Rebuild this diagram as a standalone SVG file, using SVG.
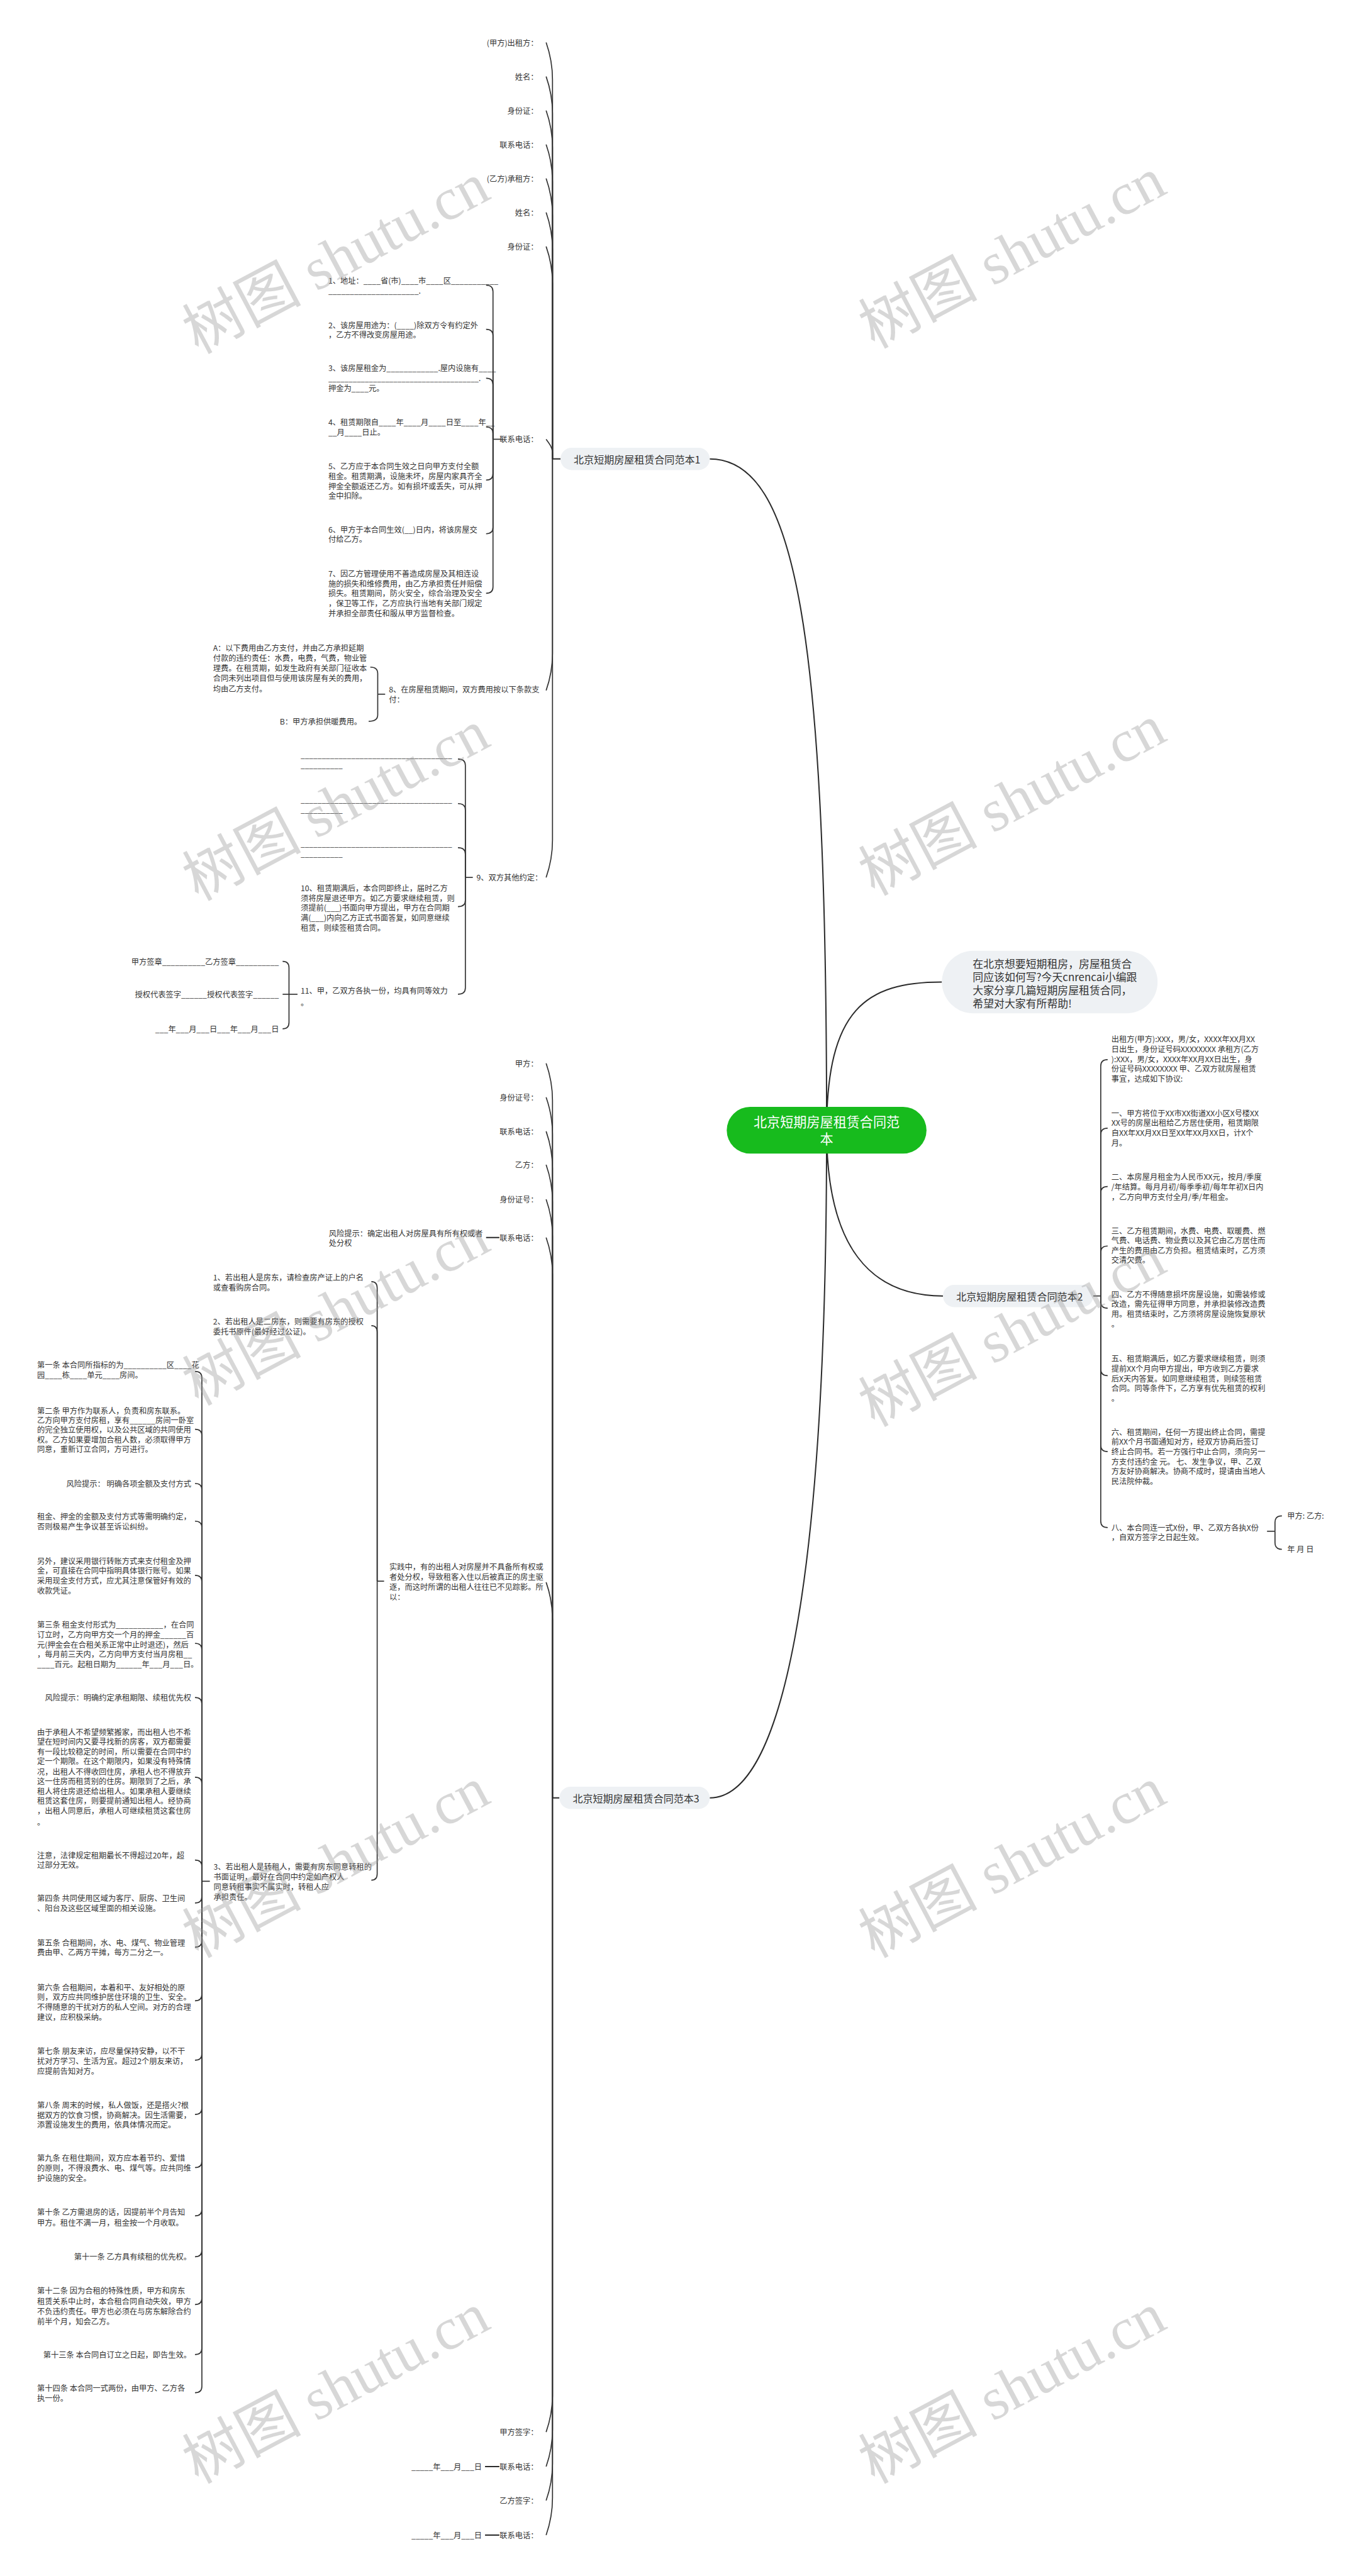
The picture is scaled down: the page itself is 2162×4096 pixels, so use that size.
<svg xmlns="http://www.w3.org/2000/svg" width="2162" height="4096" viewBox="0 0 2162 4096">
<style>
.t{font-family:'Noto Sans CJK SC','Microsoft YaHei',sans-serif;font-size:14.5px;fill:#333;dominant-baseline:central}
.r{text-anchor:end}
.lk{fill:none;stroke:#333;stroke-width:2}
.tk{fill:none;stroke:#2b2b2b;stroke-width:2.4}
.pill{fill:#eef1f4}
.pt{font-family:'Noto Sans CJK SC','Microsoft YaHei',sans-serif;font-size:19px;fill:#333;dominant-baseline:central}
.wm{font-family:'Liberation Serif','Noto Sans CJK SC',serif;font-size:112px;fill:#999;opacity:0.38;text-anchor:middle}
</style>
<rect width="2162" height="4096" fill="#fff"/>
<g transform="scale(0.84453)">
<g id="connectors">
<path class="tk" d="M1556 2128 C1556 1200,1500 864,1336 864"/>
<path class="tk" d="M1556 2128 C1556 1900,1630 1849,1773 1849"/>
<path class="tk" d="M1556 2128 C1556 2350,1640 2440,1775 2440"/>
<path class="tk" d="M1556 2128 C1556 3000,1470 3385,1336 3385"/>
<path class="tk" d="M1040 864 L1055 864"/>
<path class="lk" d="M1028 80 C1035 100,1040 120,1040 150 L1040 864"/>
<path class="lk" d="M1028 144 C1035 164,1040 184,1040 214 L1040 864"/>
<path class="lk" d="M1028 208 C1035 228,1040 248,1040 278 L1040 864"/>
<path class="lk" d="M1028 272 C1035 292,1040 312,1040 342 L1040 864"/>
<path class="lk" d="M1028 336 C1035 356,1040 376,1040 406 L1040 864"/>
<path class="lk" d="M1028 400 C1035 420,1040 440,1040 470 L1040 864"/>
<path class="lk" d="M1028 464 C1035 484,1040 504,1040 534 L1040 864"/>
<path class="lk" d="M1028 827 C1034 835,1040 843,1040 852 L1040 864"/>
<path class="lk" d="M1028 1300 C1035 1280,1040 1260,1040 1230 L1040 864"/>
<path class="lk" d="M1028 1652 C1035 1632,1040 1612,1040 1582 L1040 864"/>
<path class="lk" d="M948 827 L928 827"/>
<path class="lk" d="M915 537 Q928 537,928 549 L928 827"/>
<path class="lk" d="M915 620 Q928 620,928 632 L928 827"/>
<path class="lk" d="M915 712 Q928 712,928 724 L928 827"/>
<path class="lk" d="M915 804 Q928 804,928 816 L928 827"/>
<path class="lk" d="M915 904 Q928 904,928 892 L928 827"/>
<path class="lk" d="M915 1005 Q928 1005,928 993 L928 827"/>
<path class="lk" d="M915 1117 Q928 1117,928 1105 L928 827"/>
<path class="lk" d="M725 1307 L711 1307"/>
<path class="lk" d="M697 1256 Q711 1256,711 1268 L711 1307"/>
<path class="lk" d="M694 1358 Q711 1358,711 1346 L711 1307"/>
<path class="lk" d="M890 1652 L876 1652"/>
<path class="lk" d="M862 1429 Q876 1429,876 1441 L876 1652"/>
<path class="lk" d="M862 1513 Q876 1513,876 1525 L876 1652"/>
<path class="lk" d="M862 1596 Q876 1596,876 1608 L876 1652"/>
<path class="lk" d="M862 1707 Q876 1707,876 1695 L876 1652"/>
<path class="lk" d="M862 1872 Q876 1872,876 1860 L876 1652"/>
<path class="lk" d="M560 1872 L532 1872"/>
<path class="lk" d="M532 1810 Q544 1810,544 1822 L544 1872"/>
<path class="lk" d="M532 1937 Q544 1937,544 1925 L544 1872"/>
<path class="lk" d="M2058 2440 L2072 2440"/>
<path class="lk" d="M2085 1995 Q2072 1995,2072 2007 L2072 2440"/>
<path class="lk" d="M2085 2124 Q2072 2124,2072 2136 L2072 2440"/>
<path class="lk" d="M2085 2234 Q2072 2234,2072 2246 L2072 2440"/>
<path class="lk" d="M2085 2346 Q2072 2346,2072 2358 L2072 2440"/>
<path class="lk" d="M2085 2463 Q2072 2463,2072 2451 L2072 2440"/>
<path class="lk" d="M2085 2590 Q2072 2590,2072 2578 L2072 2440"/>
<path class="lk" d="M2085 2733 Q2072 2733,2072 2721 L2072 2440"/>
<path class="lk" d="M2085 2876 Q2072 2876,2072 2864 L2072 2440"/>
<path class="lk" d="M2385 2883 L2400 2883"/>
<path class="lk" d="M2413 2854 Q2400 2854,2400 2866 L2400 2883"/>
<path class="lk" d="M2413 2917 Q2400 2917,2400 2905 L2400 2883"/>
<path class="tk" d="M1040 3385 L1053 3385"/>
<path class="lk" d="M1028 2002 C1035 2022,1040 2042,1040 2072 L1040 3385"/>
<path class="lk" d="M1028 2066 C1035 2086,1040 2106,1040 2136 L1040 3385"/>
<path class="lk" d="M1028 2130 C1035 2150,1040 2170,1040 2200 L1040 3385"/>
<path class="lk" d="M1028 2193 C1035 2213,1040 2233,1040 2263 L1040 3385"/>
<path class="lk" d="M1028 2258 C1035 2278,1040 2298,1040 2328 L1040 3385"/>
<path class="lk" d="M1028 2330 C1035 2350,1040 2370,1040 2400 L1040 3385"/>
<path class="lk" d="M1028 2979 C1035 2999,1040 3019,1040 3049 L1040 3385"/>
<path class="lk" d="M1028 4579 C1035 4559,1040 4539,1040 4509 L1040 3385"/>
<path class="lk" d="M1028 4644 C1035 4624,1040 4604,1040 4574 L1040 3385"/>
<path class="lk" d="M1028 4708 C1035 4688,1040 4668,1040 4638 L1040 3385"/>
<path class="lk" d="M1028 4773 C1035 4753,1040 4733,1040 4703 L1040 3385"/>
<path class="tk" d="M940 2330 L915 2330"/>
<path class="tk" d="M940 4644 L913 4644"/>
<path class="tk" d="M940 4773 L913 4773"/>
<path class="lk" d="M723 2977 L710 2977"/>
<path class="lk" d="M699 2413 Q710 2413,710 2425 L710 2977"/>
<path class="lk" d="M699 2496 Q710 2496,710 2508 L710 2977"/>
<path class="lk" d="M699 3540 Q710 3540,710 3528 L710 2977"/>
<path class="lk" d="M395 3542 L380 3542"/>
<path class="lk" d="M367 2582 Q380 2582,380 2594 L380 3542"/>
<path class="lk" d="M367 2691 Q380 2691,380 2703 L380 3542"/>
<path class="lk" d="M367 2793 Q380 2793,380 2805 L380 3542"/>
<path class="lk" d="M367 2864 Q380 2864,380 2876 L380 3542"/>
<path class="lk" d="M367 2966 Q380 2966,380 2978 L380 3542"/>
<path class="lk" d="M367 3094 Q380 3094,380 3106 L380 3542"/>
<path class="lk" d="M367 3196 Q380 3196,380 3208 L380 3542"/>
<path class="lk" d="M367 3346 Q380 3346,380 3358 L380 3542"/>
<path class="lk" d="M367 3502 Q380 3502,380 3514 L380 3542"/>
<path class="lk" d="M367 3583 Q380 3583,380 3571 L380 3542"/>
<path class="lk" d="M367 3666 Q380 3666,380 3654 L380 3542"/>
<path class="lk" d="M367 3767 Q380 3767,380 3755 L380 3542"/>
<path class="lk" d="M367 3879 Q380 3879,380 3867 L380 3542"/>
<path class="lk" d="M367 3981 Q380 3981,380 3969 L380 3542"/>
<path class="lk" d="M367 4081 Q380 4081,380 4069 L380 3542"/>
<path class="lk" d="M367 4172 Q380 4172,380 4160 L380 3542"/>
<path class="lk" d="M367 4249 Q380 4249,380 4237 L380 3542"/>
<path class="lk" d="M367 4339 Q380 4339,380 4327 L380 3542"/>
<path class="lk" d="M367 4433 Q380 4433,380 4421 L380 3542"/>
<path class="lk" d="M367 4505 Q380 4505,380 4493 L380 3542"/>
</g>

<g id="center">
<rect x="1368" y="2084" width="376" height="88" rx="44" fill="#17bb1d"/>
<text font-family="'Noto Sans CJK SC','Microsoft YaHei',sans-serif" font-size="25" fill="#fff" text-anchor="middle" dominant-baseline="central"><tspan x="1556" y="2111">北京短期房屋租赁合同范</tspan><tspan x="1556" y="2143">本</tspan></text>
</g>

<g id="intro">
<rect class="pill" x="1773" y="1790" width="406" height="118" rx="59"/>
<text font-family="'Noto Sans CJK SC','Microsoft YaHei',sans-serif" font-size="20" fill="#333" dominant-baseline="central"><tspan x="1831" y="1813">在北京想要短期租房，房屋租赁合</tspan><tspan x="1831" y="1838">同应该如何写?今天cnrencai小编跟</tspan><tspan x="1831" y="1863">大家分享几篇短期房屋租赁合同，</tspan><tspan x="1831" y="1888">希望对大家有所帮助!</tspan></text>
</g>

<g id="branch1">
<rect class="pill" x="1055" y="843" width="281" height="42" rx="21"/>
<text class="pt" x="1080" y="864">北京短期房屋租赁合同范本1</text>
</g>
<g id="b1-leaves">
<text class="t r" x="1013" y="80">(甲方)出租方：</text>
<text class="t r" x="1013" y="144">姓名：</text>
<text class="t r" x="1013" y="208">身份证：</text>
<text class="t r" x="1013" y="272">联系电话：</text>
<text class="t r" x="1013" y="336">(乙方)承租方：</text>
<text class="t r" x="1013" y="400">姓名：</text>
<text class="t r" x="1013" y="464">身份证：</text>
<text class="t r" x="1013" y="827">联系电话：</text>
</g>
<g id="b1-tel-children">
<text class="t"><tspan x="618" y="528">1、地址：____省(市)____市____区___________</tspan><tspan x="618" y="547">_____________________.</tspan></text>
<text class="t"><tspan x="618" y="612">2、该房屋用途为：(____)除双方令有约定外</tspan><tspan x="618" y="630">，乙方不得改变房屋用途。</tspan></text>
<text class="t"><tspan x="618" y="693">3、该房屋租金为____________.屋内设施有____</tspan><tspan x="618" y="712" textLength="287" lengthAdjust="spacingAndGlyphs">_____________________________________.</tspan><tspan x="618" y="731">押金为____元。</tspan></text>
<text class="t"><tspan x="618" y="795">4、租赁期限自____年____月____日至____年__</tspan><tspan x="618" y="813">__月____日止。</tspan></text>
<text class="t"><tspan x="618" y="878">5、乙方应于本合同生效之日向甲方支付全额</tspan><tspan x="618" y="896">租金。租赁期满，设施未坏，房屋内家具齐全</tspan><tspan x="618" y="915">押金全额返还乙方。如有损坏或丢失，可从押</tspan><tspan x="618" y="933">金中扣除。</tspan></text>
<text class="t"><tspan x="618" y="997">6、甲方于本合同生效(__)日内，将该房屋交</tspan><tspan x="618" y="1015">付给乙方。</tspan></text>
<text class="t"><tspan x="618" y="1080">7、因乙方管理使用不善造成房屋及其相连设</tspan><tspan x="618" y="1099">施的损失和维修费用，由乙方承担责任并赔偿</tspan><tspan x="618" y="1117">损失。租赁期间，防火安全，综合治理及安全</tspan><tspan x="618" y="1136">，保卫等工作，乙方应执行当地有关部门规定</tspan><tspan x="618" y="1154">并承担全部责任和服从甲方监督检查。</tspan></text>
</g>
<g id="b1-item8">
<text class="t"><tspan x="732" y="1298">8、在房屋租赁期间，双方费用按以下条款支</tspan><tspan x="732" y="1317">付：</tspan></text>
<text class="t"><tspan x="401" y="1220">A：以下费用由乙方支付，并由乙方承担延期</tspan><tspan x="401" y="1239">付款的违约责任：水费，电费，气费，物业管</tspan><tspan x="401" y="1258">理费。在租赁期，如发生政府有关部门征收本</tspan><tspan x="401" y="1277">合同未列出项目但与使用该房屋有关的费用，</tspan><tspan x="401" y="1296">均由乙方支付。</tspan></text>
<text class="t r" x="681" y="1358">B：甲方承担供暖费用。</text>
</g>
<g id="b1-item9">
<text class="t" x="897" y="1652">9、双方其他约定：</text>
<text class="t"><tspan x="566" y="1421" textLength="285" lengthAdjust="spacingAndGlyphs">____________________________________</tspan><tspan x="566" y="1440" textLength="79" lengthAdjust="spacingAndGlyphs">__________</tspan></text>
<text class="t"><tspan x="566" y="1505" textLength="285" lengthAdjust="spacingAndGlyphs">____________________________________</tspan><tspan x="566" y="1524" textLength="79" lengthAdjust="spacingAndGlyphs">__________</tspan></text>
<text class="t"><tspan x="566" y="1588" textLength="285" lengthAdjust="spacingAndGlyphs">____________________________________</tspan><tspan x="566" y="1607" textLength="79" lengthAdjust="spacingAndGlyphs">__________</tspan></text>
<text class="t"><tspan x="566" y="1672">10、租赁期满后，本合同即终止，届时乙方</tspan><tspan x="566" y="1691">须将房屋退还甲方。如乙方要求继续租赁，则</tspan><tspan x="566" y="1709">须提前(___)书面向甲方提出，甲方在合同期</tspan><tspan x="566" y="1728">满(___)内向乙方正式书面答复，如同意继续</tspan><tspan x="566" y="1747">租赁，则续签租赁合同。</tspan></text>
<text class="t"><tspan x="566" y="1865">11、甲，乙双方各执一份，均具有同等效力</tspan><tspan x="566" y="1887">。</tspan></text>
<text class="t r" x="525" y="1810">甲方签章__________乙方签章__________</text>
<text class="t r" x="525" y="1872">授权代表签字______授权代表签字______</text>
<text class="t r" x="525" y="1937">___年___月___日___年___月___日</text>
</g>

<g id="branch2">
<rect class="pill" x="1775" y="2419" width="283" height="42" rx="21"/>
<text class="pt" x="1800" y="2440">北京短期房屋租赁合同范本2</text>
</g>
<g id="b2-children">
<text class="t"><tspan x="2092" y="1956">出租方(甲方):XXX，男/女，XXXX年XX月XX</tspan><tspan x="2092" y="1975">日出生，身份证号码XXXXXXXX 承租方(乙方</tspan><tspan x="2092" y="1994">):XXX，男/女，XXXX年XX月XX日出生，身</tspan><tspan x="2092" y="2012">份证号码XXXXXXXX 甲、乙双方就房屋租赁</tspan><tspan x="2092" y="2031">事宜，达成如下协议:</tspan></text>
<text class="t"><tspan x="2092" y="2096">一、甲方将位于XX市XX街道XX小区X号楼XX</tspan><tspan x="2092" y="2114">XX号的房屋出租给乙方居住使用，租赁期限</tspan><tspan x="2092" y="2133">自XX年XX月XX日至XX年XX月XX日，计X个</tspan><tspan x="2092" y="2151">月。</tspan></text>
<text class="t"><tspan x="2092" y="2216">二、本房屋月租金为人民币XX元，按月/季度</tspan><tspan x="2092" y="2234">/年结算。每月月初/每季季初/每年年初X日内</tspan><tspan x="2092" y="2253">，乙方向甲方支付全月/季/年租金。</tspan></text>
<text class="t"><tspan x="2092" y="2317">三、乙方租赁期间，水费、电费、取暖费、燃</tspan><tspan x="2092" y="2335">气费、电话费、物业费以及其它由乙方居住而</tspan><tspan x="2092" y="2354">产生的费用由乙方负担。租赁结束时，乙方须</tspan><tspan x="2092" y="2372">交清欠费。</tspan></text>
<text class="t"><tspan x="2092" y="2437">四、乙方不得随意损坏房屋设施，如需装修或</tspan><tspan x="2092" y="2455">改造，需先征得甲方同意，并承担装修改造费</tspan><tspan x="2092" y="2474">用。租赁结束时，乙方须将房屋设施恢复原状</tspan><tspan x="2092" y="2493">。</tspan></text>
<text class="t"><tspan x="2092" y="2558">五、租赁期满后，如乙方要求继续租赁，则须</tspan><tspan x="2092" y="2576">提前XX个月向甲方提出，甲方收到乙方要求</tspan><tspan x="2092" y="2595">后X天内答复。如同意继续租赁，则续签租赁</tspan><tspan x="2092" y="2613">合同。同等条件下，乙方享有优先租赁的权利</tspan><tspan x="2092" y="2632">。</tspan></text>
<text class="t"><tspan x="2092" y="2696">六、租赁期间，任何一方提出终止合同，需提</tspan><tspan x="2092" y="2714">前XX个月书面通知对方，经双方协商后签订</tspan><tspan x="2092" y="2733">终止合同书。若一方强行中止合同，须向另一</tspan><tspan x="2092" y="2752">方支付违约金 元。 七、发生争议，甲、乙双</tspan><tspan x="2092" y="2770">方友好协商解决。协商不成时，提请由当地人</tspan><tspan x="2092" y="2789">民法院仲裁。</tspan></text>
<text class="t"><tspan x="2092" y="2876">八、本合同连一式X份，甲、乙双方各执X份</tspan><tspan x="2092" y="2894">，自双方签字之日起生效。</tspan></text>
<text class="t" x="2423" y="2854">甲方: 乙方:</text>
<text class="t" x="2423" y="2917">年 月 日</text>
</g>

<g id="branch3">
<rect class="pill" x="1053" y="3364" width="283" height="42" rx="21"/>
<text class="pt" x="1078" y="3385">北京短期房屋租赁合同范本3</text>
</g>
<g id="b3-leaves">
<text class="t r" x="1013" y="2002">甲方：</text>
<text class="t r" x="1013" y="2066">身份证号：</text>
<text class="t r" x="1013" y="2130">联系电话：</text>
<text class="t r" x="1013" y="2193">乙方：</text>
<text class="t r" x="1013" y="2258">身份证号：</text>
<text class="t r" x="1013" y="2330">联系电话：</text>
<text class="t"><tspan x="619" y="2322">风险提示：确定出租人对房屋具有所有权或者</tspan><tspan x="619" y="2340">处分权</tspan></text>
<text class="t r" x="1013" y="4579">甲方签字：</text>
<text class="t r" x="1013" y="4644">联系电话：</text>
<text class="t r" x="907" y="4644">_____年___月___日</text>
<text class="t r" x="1013" y="4708">乙方签字：</text>
<text class="t r" x="1013" y="4773">联系电话：</text>
<text class="t r" x="907" y="4773">_____年___月___日</text>
</g>
<g id="b3-practice">
<text class="t"><tspan x="733" y="2949">实践中，有的出租人对房屋并不具备所有权或</tspan><tspan x="733" y="2968">者处分权，导致租客入住以后被真正的房主驱</tspan><tspan x="733" y="2987">逐，而这时所谓的出租人往往已不见踪影。所</tspan><tspan x="733" y="3006">以：</tspan></text>
<text class="t"><tspan x="401" y="2405">1、若出租人是房东，请检查房产证上的户名</tspan><tspan x="401" y="2424">或查看购房合同。</tspan></text>
<text class="t"><tspan x="401" y="2488">2、若出租人是二房东，则需要有房东的授权</tspan><tspan x="401" y="2507">委托书原件(最好经过公证)。</tspan></text>
<text class="t"><tspan x="402" y="3514">3、若出租人是转租人，需要有房东同意转租的</tspan><tspan x="402" y="3533">书面证明，最好在合同中约定如产权人</tspan><tspan x="402" y="3552">同意转租事实不属实时，转租人应</tspan><tspan x="402" y="3571">承担责任。</tspan></text>
</g>
<g id="b3-articles">
<text class="t"><tspan x="70" y="2570">第一条 本合同所指标的为__________区____花</tspan><tspan x="70" y="2588">园____栋____单元____房间。</tspan></text>
<text class="t"><tspan x="70" y="2656">第二条 甲方作为联系人，负责和房东联系。</tspan><tspan x="70" y="2674">乙方向甲方支付房租，享有______房间一卧室</tspan><tspan x="70" y="2692">的完全独立使用权，以及公共区域的共同使用</tspan><tspan x="70" y="2710">权。乙方如果要增加合租人数，必须取得甲方</tspan><tspan x="70" y="2728">同意，重新订立合同，方可进行。</tspan></text>
<text class="t r" x="360" y="2793">风险提示： 明确各项金额及支付方式</text>
<text class="t"><tspan x="70" y="2855">租金、押金的金额及支付方式等需明确约定，</tspan><tspan x="70" y="2874">否则极易产生争议甚至诉讼纠纷。</tspan></text>
<text class="t"><tspan x="70" y="2939">另外，建议采用银行转账方式来支付租金及押</tspan><tspan x="70" y="2957">金，可直接在合同中指明具体银行账号。如果</tspan><tspan x="70" y="2976">采用现金支付方式，应尤其注意保管好有效的</tspan><tspan x="70" y="2994">收款凭证。</tspan></text>
<text class="t"><tspan x="70" y="3059">第三条 租金支付形式为___________，在合同</tspan><tspan x="70" y="3077">订立时，乙方向甲方交一个月的押金______百</tspan><tspan x="70" y="3096">元(押金会在合租关系正常中止时退还)，然后</tspan><tspan x="70" y="3114">，每月前三天内，乙方向甲方支付当月房租__</tspan><tspan x="70" y="3133">____百元。起租日期为______年___月___日。</tspan></text>
<text class="t r" x="360" y="3196">风险提示：明确约定承租期限、续租优先权</text>
<text class="t"><tspan x="70" y="3261">由于承租人不希望频繁搬家，而出租人也不希</tspan><tspan x="70" y="3279">望在短时间内又要寻找新的房客，双方都需要</tspan><tspan x="70" y="3298">有一段比较稳定的时间，所以需要在合同中约</tspan><tspan x="70" y="3316">定一个期限。在这个期限内，如果没有特殊情</tspan><tspan x="70" y="3335">况，出租人不得收回住房，承租人也不得放弃</tspan><tspan x="70" y="3353">这一住房而租赁别的住房。期限到了之后，承</tspan><tspan x="70" y="3372">租人将住房退还给出租人。如果承租人要继续</tspan><tspan x="70" y="3390">租赁这套住房，则要提前通知出租人。经协商</tspan><tspan x="70" y="3409">，出租人同意后，承租人可继续租赁这套住房</tspan><tspan x="70" y="3430">。</tspan></text>
<text class="t"><tspan x="70" y="3493">注意，法律规定租期最长不得超过20年，超</tspan><tspan x="70" y="3511">过部分无效。</tspan></text>
<text class="t"><tspan x="70" y="3574">第四条 共同使用区域为客厅、厨房、卫生间</tspan><tspan x="70" y="3593">、阳台及这些区域里面的相关设施。</tspan></text>
<text class="t"><tspan x="70" y="3658">第五条 合租期间，水、电、煤气、物业管理</tspan><tspan x="70" y="3676">费由甲、乙两方平摊，每方二分之一。</tspan></text>
<text class="t"><tspan x="70" y="3742">第六条 合租期间，本着和平、友好相处的原</tspan><tspan x="70" y="3760">则，双方应共同维护居住环境的卫生、安全。</tspan><tspan x="70" y="3779">不得随意的干扰对方的私人空间。对方的合理</tspan><tspan x="70" y="3797">建议，应积极采纳。</tspan></text>
<text class="t"><tspan x="70" y="3861">第七条 朋友来访，应尽量保持安静，以不干</tspan><tspan x="70" y="3880">扰对方学习、生活为宜。超过2个朋友来访，</tspan><tspan x="70" y="3899">应提前告知对方。</tspan></text>
<text class="t"><tspan x="70" y="3963">第八条 周末的时候，私人做饭，还是搭火?根</tspan><tspan x="70" y="3982">据双方的饮食习惯，协商解决。因生活需要，</tspan><tspan x="70" y="4000">添置设施发生的费用，依具体情况而定。</tspan></text>
<text class="t"><tspan x="70" y="4063">第九条 在租住期间，双方应本着节约、爱惜</tspan><tspan x="70" y="4082">的原则，不得浪费水、电、煤气等。应共同维</tspan><tspan x="70" y="4101">护设施的安全。</tspan></text>
<text class="t"><tspan x="70" y="4165">第十条 乙方需退房的话，因提前半个月告知</tspan><tspan x="70" y="4184">甲方。租住不满一月，租金按一个月收取。</tspan></text>
<text class="t r" x="360" y="4249">第十一条 乙方具有续租的优先权。</text>
<text class="t"><tspan x="70" y="4313">第十二条 因为合租的特殊性质，甲方和房东</tspan><tspan x="70" y="4332">租赁关系中止时，本合租合同自动失效，甲方</tspan><tspan x="70" y="4351">不负违约责任。甲方也必须在与房东解除合约</tspan><tspan x="70" y="4370">前半个月，知会乙方。</tspan></text>
<text class="t r" x="360" y="4433">第十三条 本合同自订立之日起，即告生效。</text>
<text class="t"><tspan x="70" y="4496">第十四条 本合同一式两份，由甲方、乙方各</tspan><tspan x="70" y="4515">执一份。</tspan></text>
</g>

<g id="watermarks">
<text class="wm" transform="translate(650 520) rotate(-28)">树图 shutu.cn</text>
<text class="wm" transform="translate(1923 510) rotate(-28)">树图 shutu.cn</text>
<text class="wm" transform="translate(650 1550) rotate(-28)">树图 shutu.cn</text>
<text class="wm" transform="translate(1923 1540) rotate(-28)">树图 shutu.cn</text>
<text class="wm" transform="translate(650 2500) rotate(-28)">树图 shutu.cn</text>
<text class="wm" transform="translate(1923 2540) rotate(-28)">树图 shutu.cn</text>
<text class="wm" transform="translate(650 3540) rotate(-28)">树图 shutu.cn</text>
<text class="wm" transform="translate(1923 3540) rotate(-28)">树图 shutu.cn</text>
<text class="wm" transform="translate(650 4530) rotate(-28)">树图 shutu.cn</text>
<text class="wm" transform="translate(1923 4530) rotate(-28)">树图 shutu.cn</text>
</g>
</g>
</svg>
